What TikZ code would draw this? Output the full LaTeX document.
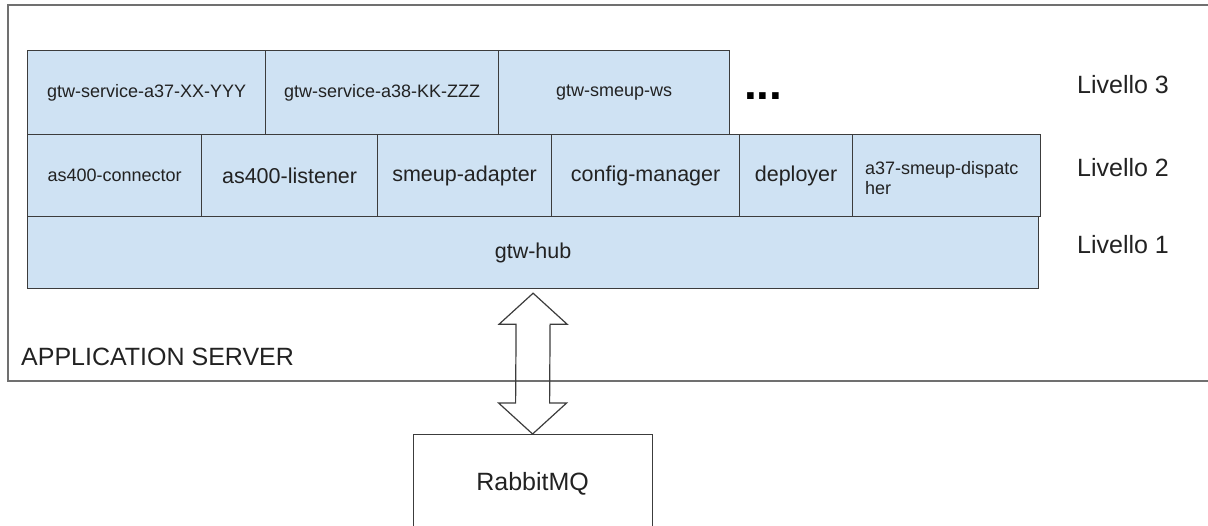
\documentclass[tikz,border=0pt]{standalone}
\usepackage{fontspec}
\setmainfont{Liberation Sans}
\usetikzlibrary{calc}
\definecolor{boxfill}{HTML}{CFE2F3}
\definecolor{boxline}{HTML}{3C3C3C}
\definecolor{outerline}{HTML}{707070}
\definecolor{txt}{HTML}{222222}
\tikzset{
  comp/.style={draw=boxline, fill=boxfill, line width=1.2pt, anchor=north west,
    inner sep=0pt, text=txt},
  small/.style={font=\fontsize{18}{20}\selectfont},
  mid/.style={font=\fontsize{21.5}{24}\selectfont},
  big/.style={font=\fontsize{25}{28}\selectfont},
  lvl/.style={big, text=txt, anchor=west, inner sep=0pt},
  plainbox/.style={draw=boxline, line width=1.2pt, anchor=north west, inner sep=0pt, text=txt},
}
\begin{document}
\begin{tikzpicture}[x=1pt,y=-1pt]
\useasboundingbox (0,0) rectangle (1208,525);
% application server outline (open on the right)
\draw[outerline, line width=1.3pt] (1215,5) -- (8,5) -- (8,381) -- (1215,381);
\node[big, text=txt, anchor=west, inner sep=0pt] (appsrv) at (21,357) {APPLICATION SERVER};
% level 3
\node[comp, small, minimum width=238, minimum height=84] (s1) at (27,50) {gtw-service-a37-XX-YYY};
\node[comp, small, minimum width=233, minimum height=84] (s2) at (265,50) {gtw-service-a38-KK-ZZZ};
\node[comp, small, minimum width=231, minimum height=84] (s3) at (498,50) {gtw-smeup-ws};
\node[font=\fontsize{46}{46}\selectfont\bfseries, text=black, anchor=base west, inner sep=0pt] (dots) at (744,99) {...};
% level 2
\node[comp, small, minimum width=174, minimum height=82] (c1) at (27,134) {as400-connector};
\node[comp, mid, minimum width=176, minimum height=82] (c2) at (201,134) {as400-listener};
\node[comp, mid, minimum width=174, minimum height=82] (c3) at (377,134) {smeup-adapter};
\node[comp, mid, minimum width=188, minimum height=82] (c4) at (551,134) {config-manager};
\node[comp, mid, minimum width=113, minimum height=82] (c5) at (739,134) {deployer};
\node[comp, minimum width=188, minimum height=82] (c6) at (852,134) {};
\node[small, text=txt, anchor=west, align=left, inner sep=0pt] (c6t) at ($(c6.west)+(13,2)$) {a37-smeup-dispatc\\her};
% level 1
\node[comp, mid, minimum width=1011, minimum height=72] (hub) at (27,216) {gtw-hub};
% level labels
\node[lvl] (l3) at (1077,85) {Livello 3};
\node[lvl] (l2) at (1077,168) {Livello 2};
\node[lvl] (l1) at (1077,245) {Livello 1};
% RabbitMQ
\node[plainbox, big, minimum width=239, minimum height=98] (rabbit) at (412.5,434) {RabbitMQ};
% double arrow hub <-> rabbit
\coordinate (t) at ($(hub.south)+(0,4)$);
\coordinate (b) at (rabbit.north);
\draw[boxline, line width=1.2pt, line join=miter]
  (t) -- ($(t)+(-34,31)$) -- ($(t)+(-17,31)$) -- ($(b)+(-17,-31)$) -- ($(b)+(-34,-31)$)
  -- (b) -- ($(b)+(34,-31)$) -- ($(b)+(17,-31)$) -- ($(t)+(17,31)$) -- ($(t)+(34,31)$) -- cycle;
\end{tikzpicture}
\end{document}
